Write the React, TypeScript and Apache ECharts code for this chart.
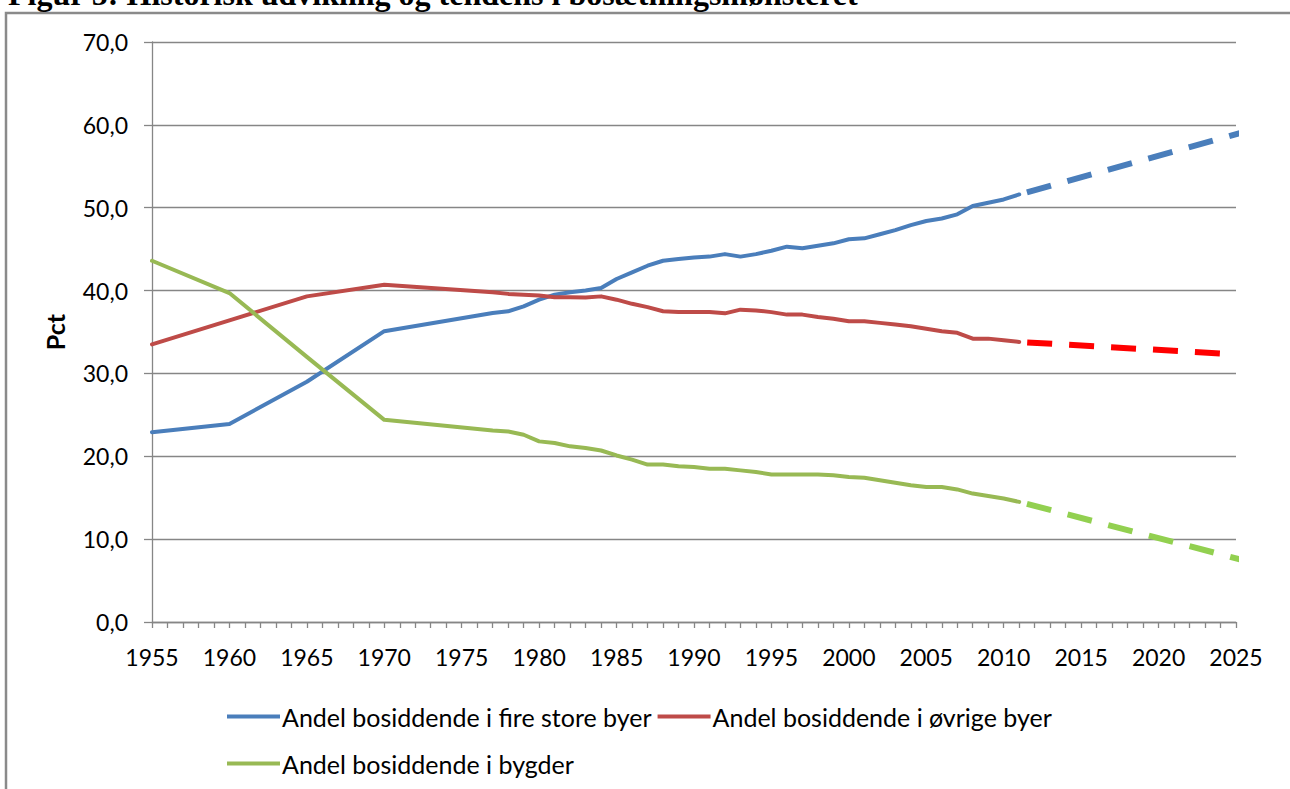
import React, { useEffect, useRef } from "react";
import * as echarts from "echarts";

const TITLE = "Figur 5: Historisk udvikling og tendens i bosætningsmønsteret";
const Y_NAME = "Pct";
const NAME_BIG = "Andel bosiddende i fire store byer";
const NAME_OTHER = "Andel bosiddende i øvrige byer";
const NAME_RURAL = "Andel bosiddende i bygder";

const years = [
  1955, 1960, 1965, 1970, 1977, 1978, 1979, 1980, 1981, 1982, 1983, 1984, 1985,
  1986, 1987, 1988, 1989, 1990, 1991, 1992, 1993, 1994, 1995, 1996, 1997, 1998,
  1999, 2000, 2001, 2002, 2003, 2004, 2005, 2006, 2007, 2008, 2009, 2010, 2011,
];
const bigTowns = [
  22.9, 23.9, 29.0, 35.1, 37.3, 37.5, 38.1, 38.9, 39.5, 39.8, 40.0, 40.3, 41.4,
  42.2, 43.0, 43.6, 43.8, 44.0, 44.1, 44.4, 44.1, 44.4, 44.8, 45.3, 45.1, 45.4,
  45.7, 46.2, 46.3, 46.8, 47.3, 47.9, 48.4, 48.7, 49.2, 50.2, 50.6, 51.0, 51.6,
];
const otherTowns = [
  33.5, 36.4, 39.3, 40.7, 39.8, 39.6, 39.5, 39.4, 39.2, 39.2, 39.15, 39.3, 38.9,
  38.4, 38.0, 37.5, 37.4, 37.4, 37.4, 37.25, 37.7, 37.6, 37.4, 37.1, 37.1, 36.8,
  36.6, 36.3, 36.3, 36.1, 35.9, 35.7, 35.4, 35.1, 34.9, 34.2, 34.2, 34.0, 33.8,
];
const settlements = [
  43.6, 39.7, 32.0, 24.4, 23.1, 23.0, 22.6, 21.8, 21.6, 21.2, 21.0, 20.7, 20.1,
  19.6, 19.0, 19.0, 18.8, 18.7, 18.5, 18.5, 18.3, 18.1, 17.8, 17.8, 17.8, 17.8,
  17.7, 17.5, 17.4, 17.1, 16.8, 16.5, 16.3, 16.3, 16.0, 15.5, 15.2, 14.9, 14.5,
];

// Trend projections (dashed)
const trendBigYears = [2011, 2026];
const trendBig = [51.6, 59.4];
const trendOtherYears = [2011, 2025];
const trendOther = [33.8, 32.3];
const trendRuralYears = [2011, 2026];
const trendRural = [14.5, 7.2];

const Y_MIN = 0;
const Y_MAX = 70;
const Y_STEP = 10;
const X_MIN = 1955;
const X_MAX = 2025;
const X_STEP = 5;

const pairs = (xs: number[], ys: number[]) => xs.map((x, i) => [x, ys[i]]);

const FONT = "Lato";
const GRAY = "#868686";

export default function App() {
  const ref = useRef<HTMLDivElement>(null);
  useEffect(() => {
    if (!ref.current) return;
    const chart = echarts.init(ref.current, null, { renderer: "svg" });
    const solid = (name: string, color: string, ys: number[]) => ({
      name,
      type: "line",
      data: pairs(years, ys),
      showSymbol: false,
      symbol: "none",
      lineStyle: { color, width: 4, cap: "round", join: "round" },
      itemStyle: { color },
      clip: false,
      z: 3,
    });
    const dashed = (color: string, xs: number[], ys: number[]) => ({
      name: "trend-" + color,
      type: "line",
      data: pairs(xs, ys),
      showSymbol: false,
      symbol: "none",
      lineStyle: { color, width: 6, type: [25, 17], dashOffset: -8, cap: "butt" },
      itemStyle: { color },
      clip: false,
      z: 3,
      silent: true,
    });
    const legendText = { fontFamily: FONT, fontSize: 25, color: "#000", padding: [0, 0, 0, -3] };
    chart.setOption({
      animation: false,
      backgroundColor: "#ffffff",
      textStyle: { fontFamily: FONT },
      grid: { left: 152, right: 54, top: 42, bottom: 167, containLabel: false },
      xAxis: {
        type: "value",
        min: X_MIN,
        max: X_MAX,
        interval: X_STEP,
        axisLine: { show: true, lineStyle: { color: GRAY, width: 1.3 } },
        axisTick: { show: true, length: 6, inside: false, lineStyle: { color: GRAY, width: 1.3 } },
        minorTick: { show: true, splitNumber: 5, length: 6, lineStyle: { color: GRAY, width: 1.3 } },
        splitLine: { show: false },
        axisLabel: {
          color: "#000",
          fontFamily: FONT,
          fontSize: 23,
          margin: 23,
          formatter: (v: number) => String(v),
        },
      },
      yAxis: {
        type: "value",
        min: Y_MIN,
        max: Y_MAX,
        interval: Y_STEP,
        name: Y_NAME,
        nameLocation: "middle",
        nameGap: 85,
        nameRotate: 90,
        nameTextStyle: { fontFamily: FONT, fontWeight: "bold", fontSize: 25, color: "#000" },
        axisLine: { show: true, lineStyle: { color: GRAY, width: 1.3 } },
        axisTick: { show: true, length: 8, lineStyle: { color: GRAY, width: 1.3 } },
        splitLine: { show: true, lineStyle: { color: GRAY, width: 1.3 } },
        axisLabel: {
          color: "#000",
          fontFamily: FONT,
          fontSize: 23,
          margin: 24,
          formatter: (v: number) => v.toFixed(1).replace(".", ","),
        },
      },
      legend: [
        {
          data: [NAME_BIG, NAME_OTHER],
          left: 222,
          top: 699,
          orient: "horizontal",
          icon: "rect",
          itemWidth: 53,
          itemHeight: 4,
          itemGap: 6,
          textStyle: legendText,
          selectedMode: false,
        },
        {
          data: [NAME_RURAL],
          left: 222,
          top: 746,
          orient: "horizontal",
          icon: "rect",
          itemWidth: 53,
          itemHeight: 4,
          itemGap: 6,
          textStyle: legendText,
          selectedMode: false,
        },
      ],
      graphic: [
        {
          type: "rect",
          shape: { x: 6, y: 13, width: 1310, height: 800 },
          style: { fill: "none", stroke: "#8a8a8a", lineWidth: 2.5 },
          silent: true,
          z: -1,
        },
        {
          type: "text",
          x: 8,
          y: -6,
          style: {
            text: TITLE,
            fontFamily: "Liberation Serif",
            fontWeight: "bold",
            fontSize: 32,
            fill: "#000",
            verticalAlign: "middle",
            align: "left",
          },
          silent: true,
        },
      ],
      series: [
        solid(NAME_BIG, "#4a7ebb", bigTowns),
        solid(NAME_OTHER, "#be4b48", otherTowns),
        solid(NAME_RURAL, "#98b954", settlements),
        dashed("#4a7ebb", trendBigYears, trendBig),
        dashed("#ff0000", trendOtherYears, trendOther),
        dashed("#92d050", trendRuralYears, trendRural),
      ],
    });
    return () => chart.dispose();
  }, []);
  return (
    <div
      ref={ref}
      style={{ position: "fixed", left: 0, top: 0, width: 1290, height: 789, background: "#fff" }}
    />
  );
}
